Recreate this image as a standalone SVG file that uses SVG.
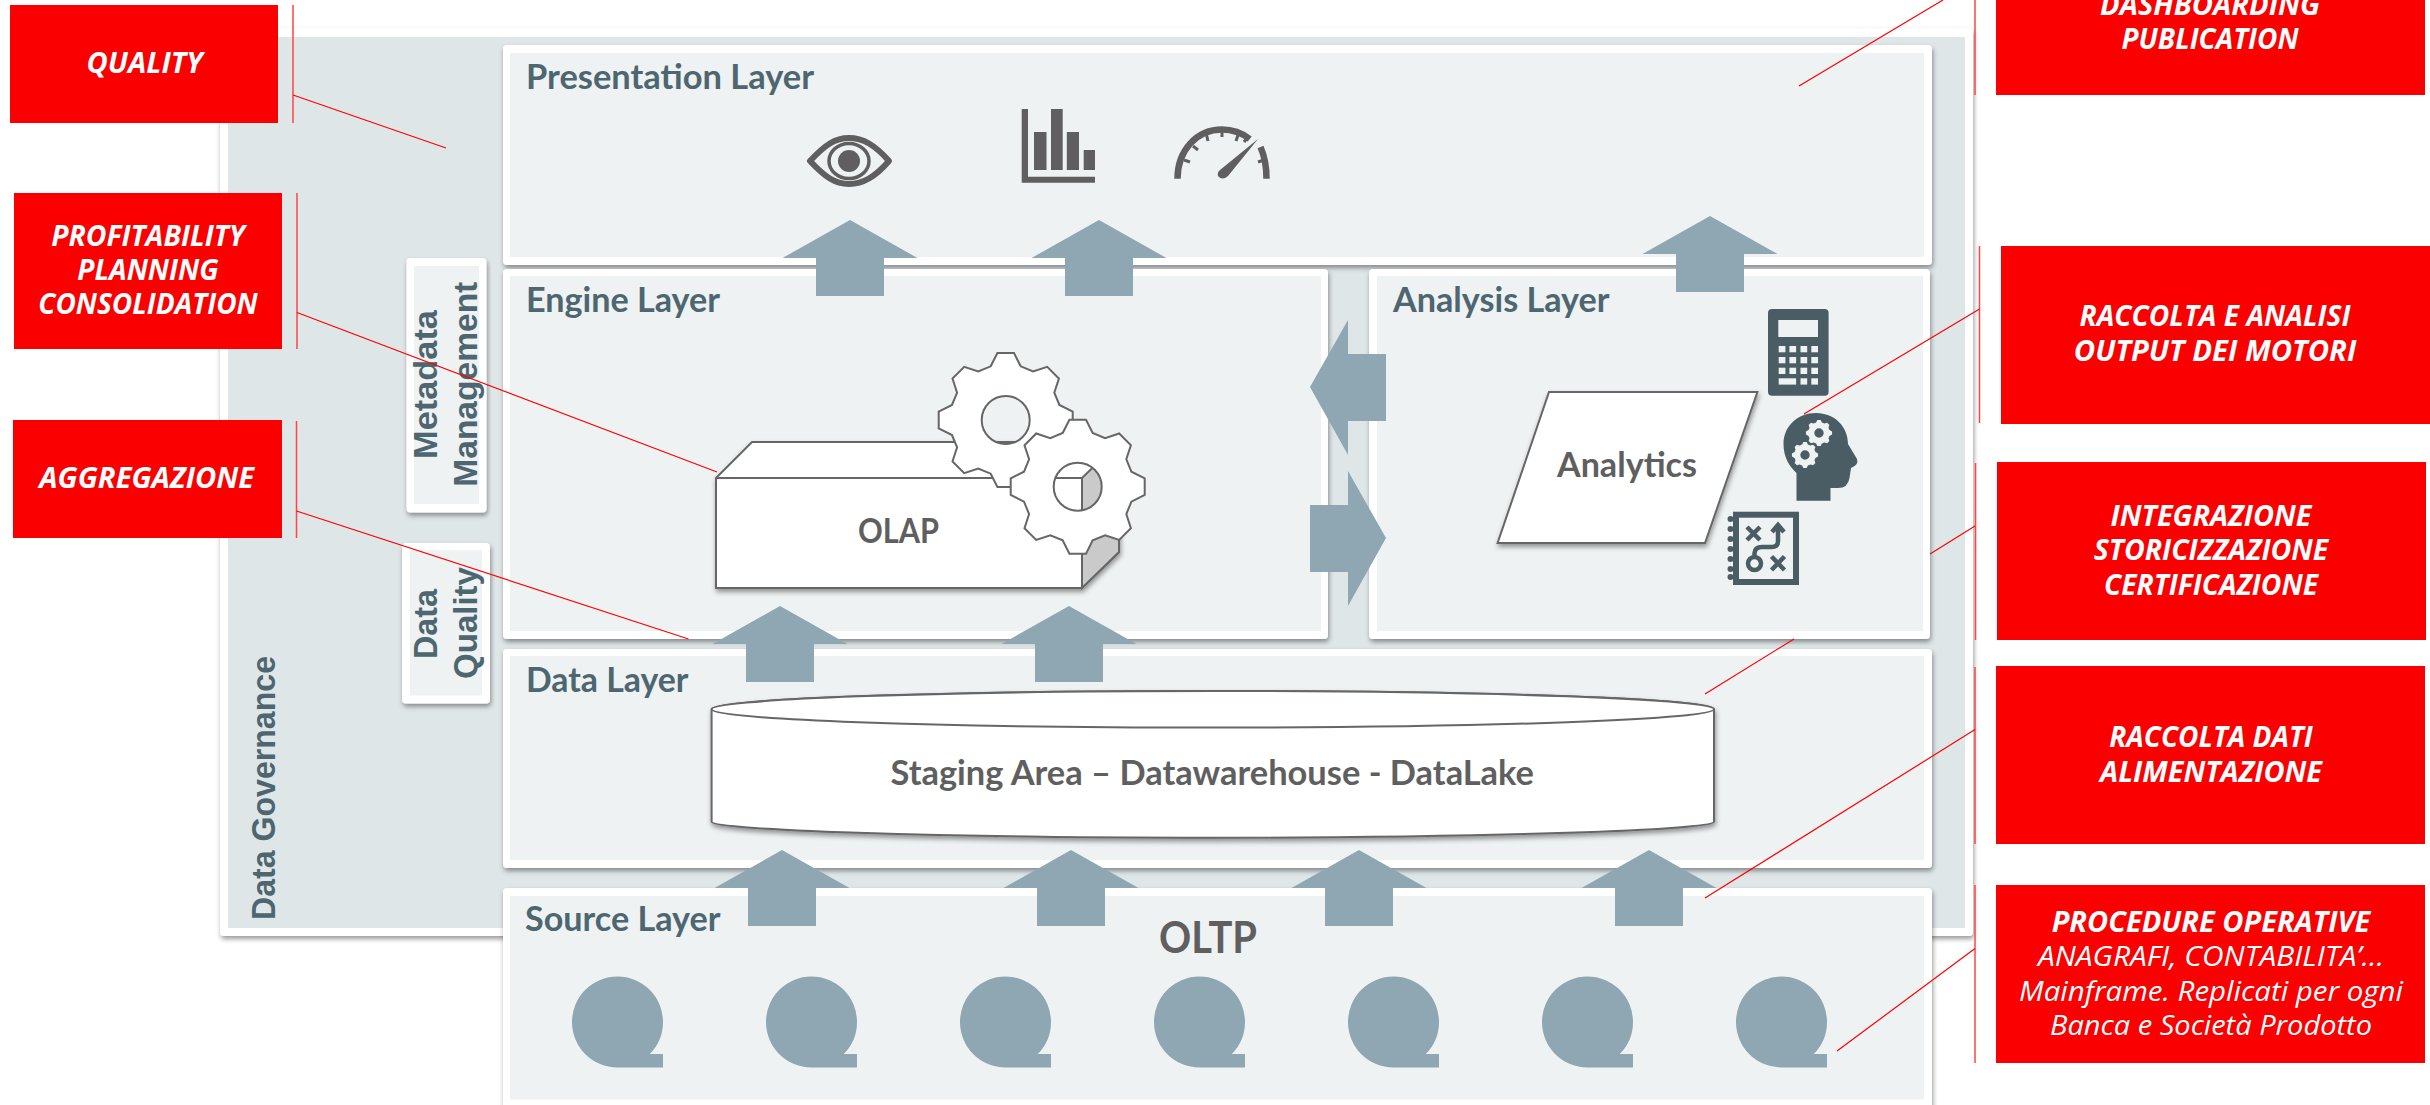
<svg xmlns="http://www.w3.org/2000/svg" xmlns:xlink="http://www.w3.org/1999/xlink" width="2430" height="1105" viewBox="0 0 2430 1105">
<style>
.outer{fill:#fff;filter:url(#sh)}
.inner{fill:#eef2f3}
.title{font:700 35px Lato,"Liberation Sans",sans-serif;fill:#4d6670}
.vert{font:700 33px "Liberation Sans",Arial,sans-serif;fill:#4d6670}
.shape{fill:#fff;stroke:#666;stroke-width:2;filter:url(#sh)}
.lbl{font-family:Lato,"Liberation Sans",sans-serif;font-weight:700;fill:#5f5f5f;text-anchor:start}
.red{fill:#fa0000}
.rt{font-family:"Open Sans","Liberation Sans",sans-serif;font-style:italic;font-weight:700;font-size:28px;fill:#fff;text-anchor:middle}
.rn{font-weight:400}
.arrow{fill:#8fa6b3}
.leader{stroke:#f00;stroke-width:1.2;fill:none}
.bar{stroke:#f44;stroke-width:1.5;fill:none}
.ic{fill:#5f5f5f}
.ds{fill:#4a5c64}
.key{fill:#eef2f3}
.sl{fill:none;stroke:#4a5c64}
.gl{fill:none;stroke:#5f5f5f}
</style>
<defs>
<filter id="sh" x="-5%" y="-5%" width="110%" height="115%"><feDropShadow dx="1" dy="3" stdDeviation="2.5" flood-color="#000" flood-opacity=".4"/></filter>
<path id="gear" fill-rule="evenodd" d="M-15,-53.7L-8.3,-67L8.3,-67L15,-53.7L27.4,-48.6L41.5,-53.2L53.2,-41.5L48.6,-27.4L53.7,-15L67,-8.3L67,8.3L53.7,15L48.6,27.4L53.2,41.5L41.5,53.2L27.4,48.6L15,53.7L8.3,67L-8.3,67L-15,53.7L-27.4,48.6L-41.5,53.2L-53.2,41.5L-48.6,27.4L-53.7,15L-67,8.3L-67,-8.3L-53.7,-15L-48.6,-27.4L-53.2,-41.5L-41.5,-53.2L-27.4,-48.6ZM0,-24A24,24 0 1 0 0,24A24,24 0 1 0 0,-24Z"/>
<path id="src" class="arrow" d="M-45.5,0A45.5,45.5 0 0 1 45.5,0A45.5,45.5 0 0 1 32.3,32H45.5V45.5H0A45.5,45.5 0 0 1 -45.5,0Z"/>
<path id="up" class="arrow" d="M0,0L67.5,38H34V76H-34V38H-67.5Z"/>
</defs>
<rect width="2430" height="1105" fill="#fff"/>

<g id="data-governance">
<rect class="outer" x="220" y="28" width="1753" height="908" rx="4"/>
<rect x="228" y="37" width="1737" height="891" fill="#dfe6e8"/>
<text class="vert" transform="translate(274.500 920) rotate(-90)" textLength="264" lengthAdjust="spacingAndGlyphs">Data Governance</text>
</g>

<g id="presentation-layer">
<rect class="outer" x="503" y="45" width="1429" height="220" rx="4"/>
<rect class="inner" x="510" y="53" width="1414" height="204"/>
<text class="title" x="526" y="88.500" textLength="288" lengthAdjust="spacingAndGlyphs">Presentation Layer</text>
<g id="icon-eye">
<path d="M810,161C825,145 835,138 849,138C863,138 875,145 889,161C875,177 863,184 849,184C835,184 825,177 810,161Z" fill="none" stroke="#5f5f5f" stroke-width="6" stroke-linejoin="round"/>
<ellipse cx="849" cy="161" rx="20" ry="17.500" fill="none" stroke="#5f5f5f" stroke-width="3.500"/>
<ellipse cx="849" cy="161" rx="11" ry="11" class="ic"/>
</g>
<g id="icon-chart" class="ic">
<path d="M1021.700,109H1028V176.700H1095V182.700H1021.700Z"/>
<rect x="1034" y="132" width="12.500" height="38"/>
<rect x="1051" y="109" width="11.700" height="61"/>
<rect x="1066.800" y="132" width="12.200" height="38"/>
<rect x="1083.700" y="150" width="11.300" height="20"/>
</g>
<g id="icon-gauge">
<path class="gl" stroke-width="6.500" d="M1177.500,178.700C1177.500,150 1197,129.500 1222,129.500C1233,129.500 1242,133 1249.700,139"/>
<path class="gl" stroke-width="6.500" d="M1260.500,147C1264.500,156 1266.500,166 1266.500,178.700"/>
<path class="gl" stroke-width="3" d="M1222,132V137M1206.500,135L1208,141M1193,146L1198,150M1184,160L1190,162M1238,135L1236,141M1247,138L1244,142M1258,162L1264,160"/>
<path class="ic" d="M1258,139L1228,176Q1222,181 1218,176Q1217,172 1220,170Z"/>
</g>
</g>

<g id="engine-layer">
<rect class="outer" x="503" y="269" width="825" height="370" rx="4"/>
<rect class="inner" x="510" y="276" width="811" height="355"/>
<text class="title" x="526" y="312" textLength="194" lengthAdjust="spacingAndGlyphs">Engine Layer</text>
</g>

<g id="analysis-layer">
<rect class="outer" x="1369" y="269" width="561" height="370" rx="4"/>
<rect class="inner" x="1377" y="276" width="546" height="355"/>
<text class="title" x="1393" y="312" textLength="216.500" lengthAdjust="spacingAndGlyphs">Analysis Layer</text>
</g>

<g id="data-layer">
<rect class="outer" x="503" y="649" width="1429" height="219" rx="4"/>
<rect class="inner" x="510" y="656" width="1414" height="204"/>
<text class="title" x="526" y="692" textLength="162.500" lengthAdjust="spacingAndGlyphs">Data Layer</text>
</g>

<g id="source-layer">
<rect class="outer" x="503" y="888" width="1429" height="240" rx="4"/>
<rect class="inner" x="510" y="896" width="1414" height="203.500"/>
<text class="title" x="525" y="931" textLength="195.500" lengthAdjust="spacingAndGlyphs">Source Layer</text>
<text class="lbl" x="1159" y="953" font-size="44" textLength="98" lengthAdjust="spacingAndGlyphs">OLTP</text>
<use xlink:href="#src" href="#src" x="617.500" y="1022"/>
<use xlink:href="#src" href="#src" x="811.500" y="1022"/>
<use xlink:href="#src" href="#src" x="1005.500" y="1022"/>
<use xlink:href="#src" href="#src" x="1199.500" y="1022"/>
<use xlink:href="#src" href="#src" x="1393.500" y="1022"/>
<use xlink:href="#src" href="#src" x="1587.500" y="1022"/>
<use xlink:href="#src" href="#src" x="1781.500" y="1022"/>
</g>

<g id="metadata-management">
<rect class="outer" x="406.500" y="258" width="80" height="254.500" rx="4"/>
<rect class="inner" x="414" y="266" width="65" height="238"/>
<text class="vert" transform="translate(437 459) rotate(-90)" textLength="149" lengthAdjust="spacingAndGlyphs">Metadata</text>
<text class="vert" transform="translate(477 486.700) rotate(-90)" textLength="205" lengthAdjust="spacingAndGlyphs">Management</text>
</g>

<g id="data-quality">
<rect class="outer" x="402" y="543" width="88" height="160.500" rx="4"/>
<rect class="inner" x="410" y="550" width="72" height="145.500"/>
<text class="vert" transform="translate(437 659) rotate(-90)" textLength="70" lengthAdjust="spacingAndGlyphs">Data</text>
<text class="vert" transform="translate(477 679) rotate(-90)" textLength="112" lengthAdjust="spacingAndGlyphs">Quality</text>
</g>

<g id="olap">
<path class="shape" d="M716,478L752,442H1119V552L1082,588H716Z"/>
<path d="M1082,478L1119,442V552L1082,588Z" fill="#cacaca" stroke="#666" stroke-width="2"/>
<path d="M716,478H1082" fill="none" stroke="#666" stroke-width="2"/>
<text class="lbl" x="858" y="543" font-size="34" textLength="81" lengthAdjust="spacingAndGlyphs">OLAP</text>
<use xlink:href="#gear" href="#gear" x="1005.700" y="420" fill="#fff" stroke="#666" stroke-width="2"/>
<use xlink:href="#gear" href="#gear" x="1077.700" y="486.700" fill="#fff" stroke="#666" stroke-width="2"/>
</g>

<g id="analytics">
<path class="shape" d="M1549,392H1757.400L1705,543H1497.600Z"/>
<text class="lbl" x="1557" y="477" font-size="35" textLength="140" lengthAdjust="spacingAndGlyphs">Analytics</text>
<g id="icon-calculator">
<rect class="ds" x="1768" y="309" width="60.600" height="86.700" rx="4"/>
<g class="key">
<rect x="1778.300" y="320" width="39.700" height="17"/>
<rect x="1778.700" y="346" width="6.700" height="6.300"/><rect x="1789.400" y="346" width="6.700" height="6.300"/><rect x="1800.500" y="346" width="6.700" height="6.300"/><rect x="1811.300" y="346" width="6.700" height="6.300"/>
<rect x="1778.700" y="357" width="6.700" height="6.300"/><rect x="1789.400" y="357" width="6.700" height="6.300"/><rect x="1800.500" y="357" width="6.700" height="6.300"/><rect x="1811.300" y="357" width="6.700" height="6.300"/>
<rect x="1778.700" y="367.700" width="6.700" height="6.300"/><rect x="1789.400" y="367.700" width="6.700" height="6.300"/><rect x="1800.500" y="367.700" width="6.700" height="6.300"/><rect x="1811.300" y="367.700" width="6.700" height="6.300"/>
<rect x="1778.700" y="378.300" width="17.400" height="6.300"/><rect x="1800.500" y="378.300" width="6.700" height="6.300"/><rect x="1811.300" y="378.300" width="6.700" height="6.300"/>
</g>
</g>
<g id="icon-head">
<path class="ds" d="M1796.500,500.700V473C1789,466 1783.500,457 1783.500,444C1783.500,426 1798,413 1816,413C1835,413 1848,427 1848,444L1857,459Q1859,465 1851,468L1849.500,478Q1848,488 1838,488H1830.500V500.700Z"/>
<use xlink:href="#gear" href="#gear" transform="translate(1819 433) scale(.195)" class="key"/>
<use xlink:href="#gear" href="#gear" transform="translate(1805 455) scale(.195)" class="key"/>
</g>
<g id="icon-strategy">
<rect x="1736" y="514.700" width="60" height="67.300" class="sl" stroke-width="6"/>
<g class="ds"><circle cx="1730.500" cy="519" r="3"/><circle cx="1730.500" cy="529" r="3"/><circle cx="1730.500" cy="539" r="3"/><circle cx="1730.500" cy="549" r="3"/><circle cx="1730.500" cy="559" r="3"/><circle cx="1730.500" cy="569" r="3"/><circle cx="1730.500" cy="577" r="3"/></g>
<path class="sl" stroke-width="4.500" d="M1747,527L1760,540M1760,527L1747,540M1771.500,556.500L1784.500,570M1784.500,556.500L1771.500,570M1754.500,557V553Q1755,547 1762,547H1772Q1778,547 1778,541V526M1772,532L1778,525L1784,532"/>
<circle cx="1754.500" cy="563.500" r="6.500" class="sl" stroke-width="4.500"/>
</g>
</g>

<g id="staging-area">
<path class="shape" d="M711.600,709C711.600,699 936,691 1213,691C1490,691 1714,699 1714,709V821.700C1714,830 1490,837.700 1213,837.700C936,837.700 711.600,830 711.600,821.700Z"/>
<ellipse cx="1212.800" cy="709.300" rx="501.200" ry="18.300" fill="#fff" stroke="#666" stroke-width="2"/>
<text class="lbl" x="890.500" y="785" font-size="34" textLength="643.500" lengthAdjust="spacingAndGlyphs">Staging Area – Datawarehouse - DataLake</text>
</g>

<g id="note-quality">
<rect class="red" x="10" y="5" width="268" height="118"/>
<text class="rt" x="144.600" y="72.500" textLength="116" lengthAdjust="spacingAndGlyphs">QUALITY</text>
</g>
<g id="note-profitability">
<rect class="red" x="14" y="193" width="268" height="156"/>
<text class="rt" x="148" y="245.700" textLength="193.700" lengthAdjust="spacingAndGlyphs">PROFITABILITY</text>
<text class="rt" x="148" y="279.500" textLength="141.500" lengthAdjust="spacingAndGlyphs">PLANNING</text>
<text class="rt" x="148" y="314" textLength="219.500" lengthAdjust="spacingAndGlyphs">CONSOLIDATION</text>
</g>
<g id="note-aggregazione">
<rect class="red" x="13" y="420" width="269" height="118"/>
<text class="rt" x="146.700" y="487.500" textLength="215" lengthAdjust="spacingAndGlyphs">AGGREGAZIONE</text>
</g>
<g id="note-dashboarding">
<rect class="red" x="1996" y="-20" width="429" height="115"/>
<text class="rt" x="2210" y="15" textLength="220" lengthAdjust="spacingAndGlyphs">DASHBOARDING</text>
<text class="rt" x="2210" y="49" textLength="177" lengthAdjust="spacingAndGlyphs">PUBLICATION</text>
</g>
<g id="note-raccolta-analisi">
<rect class="red" x="2001" y="246" width="429" height="178"/>
<text class="rt" x="2215" y="325.700" textLength="271" lengthAdjust="spacingAndGlyphs">RACCOLTA E ANALISI</text>
<text class="rt" x="2215" y="360.700" textLength="282.500" lengthAdjust="spacingAndGlyphs">OUTPUT DEI MOTORI</text>
</g>
<g id="note-integrazione">
<rect class="red" x="1997" y="462" width="429" height="178"/>
<text class="rt" x="2211" y="525.700" textLength="201" lengthAdjust="spacingAndGlyphs">INTEGRAZIONE</text>
<text class="rt" x="2211" y="560" textLength="234.500" lengthAdjust="spacingAndGlyphs">STORICIZZAZIONE</text>
<text class="rt" x="2211" y="594.800" textLength="214" lengthAdjust="spacingAndGlyphs">CERTIFICAZIONE</text>
</g>
<g id="note-raccolta-dati">
<rect class="red" x="1996" y="666" width="429" height="178"/>
<text class="rt" x="2211" y="747" textLength="203.500" lengthAdjust="spacingAndGlyphs">RACCOLTA DATI</text>
<text class="rt" x="2211" y="781.800" textLength="222" lengthAdjust="spacingAndGlyphs">ALIMENTAZIONE</text>
</g>
<g id="note-procedure">
<rect class="red" x="1996" y="885" width="429" height="178"/>
<text class="rt" x="2211" y="932" textLength="318.700" lengthAdjust="spacingAndGlyphs">PROCEDURE OPERATIVE</text>
<text class="rt rn" x="2211" y="966" textLength="346" lengthAdjust="spacingAndGlyphs">ANAGRAFI, CONTABILITA’...</text>
<text class="rt rn" x="2211" y="1000.700" textLength="384" lengthAdjust="spacingAndGlyphs">Mainframe. Replicati per ogni</text>
<text class="rt rn" x="2211" y="1035" textLength="322" lengthAdjust="spacingAndGlyphs">Banca e Società Prodotto</text>
</g>

<g id="connectors">
<use xlink:href="#up" href="#up" x="850" y="220"/>
<use xlink:href="#up" href="#up" x="1099" y="220"/>
<use xlink:href="#up" href="#up" x="1710" y="216"/>
<use xlink:href="#up" href="#up" x="780" y="606"/>
<use xlink:href="#up" href="#up" x="1069" y="606"/>
<use xlink:href="#up" href="#up" x="782" y="850"/>
<use xlink:href="#up" href="#up" x="1071" y="850"/>
<use xlink:href="#up" href="#up" x="1359" y="850"/>
<use xlink:href="#up" href="#up" x="1649" y="850"/>
<path class="arrow" d="M1310,387L1348,320V354H1386V421H1348V455Z"/>
<path class="arrow" d="M1386,538L1348,471V505H1310V572H1348V606Z"/>
<path class="bar" d="M293,5V123M297,193V349M296.500,421V538M1975,0V95M1979.500,246V423M1975.500,463V640M1975,667V844M1975,885V1063"/>
<path class="leader" d="M293,95L446,148M297,312.500L717,472M296.500,511L688.500,639M1799,86L1943,0M1804,414L1979.500,309M1975,526L1930,554M1794,639L1705,694M1975,729.600L1705,898M1975,948.600L1837,1051"/>
</g>
</svg>
